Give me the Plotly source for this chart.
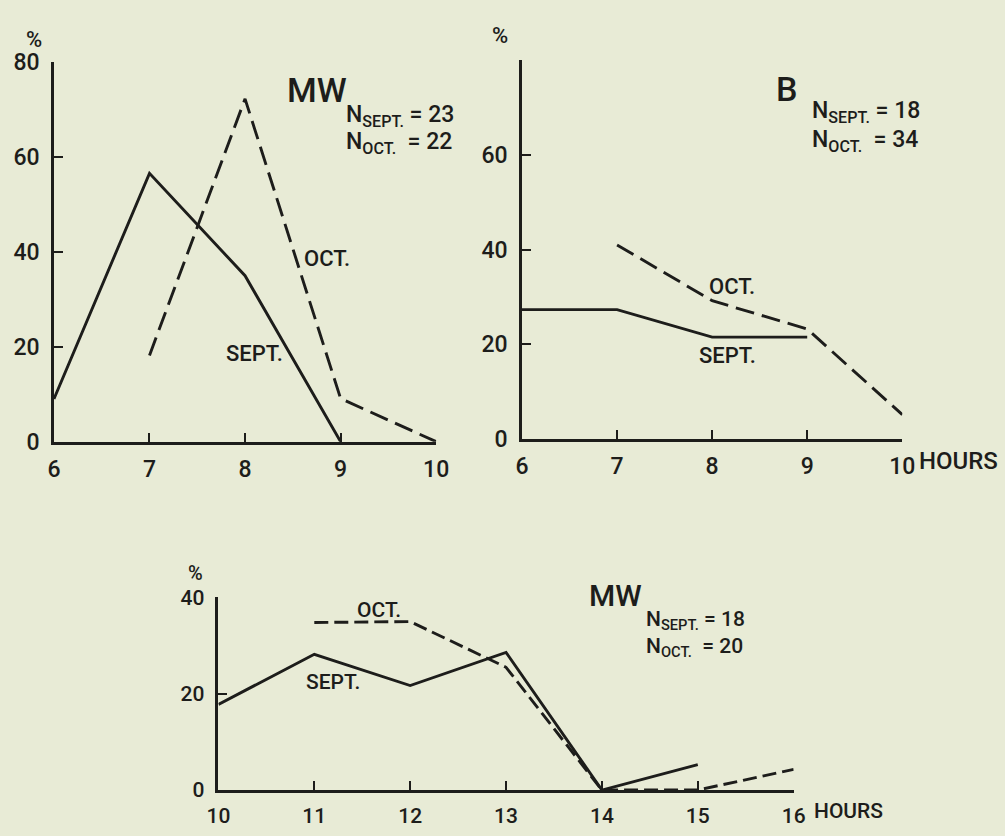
import plotly.graph_objects as go

W, H = 1005, 836

# ---------------- data ----------------
mw_morning_hours_sept = [6, 7, 8, 9]
mw_morning_sept = [9, 56.6, 35, 0]
mw_morning_hours_oct = [7, 8, 9, 10]
mw_morning_oct = [18.2, 72.3, 9.1, 0]

b_hours_sept = [6, 7, 8, 9]
b_sept = [27.3, 27.3, 21.5, 21.5]
b_hours_oct = [7, 8, 9, 10]
b_oct = [41.0, 29.2, 23.2, 5.1]

mw_noon_hours_sept = [10, 11, 12, 13, 14, 15]
mw_noon_sept = [17.8, 28.2, 21.7, 28.6, 0, 5.3]
mw_noon_hours_oct = [11, 12, 13, 14, 15, 16]
mw_noon_oct = [34.8, 35.0, 25.5, 0, 0, 4.3]

top_xticks = [6, 7, 8, 9, 10]
top_yticks = [0, 20, 40, 60, 80]
bottom_xticks = [10, 11, 12, 13, 14, 15, 16]
bottom_yticks = [0, 20, 40]

# ---------------- style ----------------
INK = "#1d1d1b"
BG = "#e8ebd6"
FONT = "Roboto, DejaVu Sans Condensed, sans-serif"


def fx(p):
    return p / W


def fy(p):
    return 1 - p / H


fig = go.Figure()

line_solid = dict(color=INK, width=2.9)
line_dash_top = dict(color=INK, width=2.9, dash="19px,8px")
line_dash_bot = dict(color=INK, width=2.9, dash="14px,6px")

fig.add_trace(go.Scatter(x=mw_morning_hours_sept, y=mw_morning_sept, mode="lines",
                         line=line_solid, xaxis="x", yaxis="y", cliponaxis=False))
fig.add_trace(go.Scatter(x=mw_morning_hours_oct, y=mw_morning_oct, mode="lines",
                         line=line_dash_top, xaxis="x", yaxis="y", cliponaxis=False))
fig.add_trace(go.Scatter(x=b_hours_sept, y=b_sept, mode="lines",
                         line=line_solid, xaxis="x2", yaxis="y2", cliponaxis=False))
fig.add_trace(go.Scatter(x=b_hours_oct, y=b_oct, mode="lines",
                         line=line_dash_top, xaxis="x2", yaxis="y2", cliponaxis=False))
fig.add_trace(go.Scatter(x=mw_noon_hours_sept, y=mw_noon_sept, mode="lines",
                         line=line_solid, xaxis="x3", yaxis="y3", cliponaxis=False))
fig.add_trace(go.Scatter(x=mw_noon_hours_oct, y=mw_noon_oct, mode="lines",
                         line=line_dash_bot, xaxis="x3", yaxis="y3", cliponaxis=False))

tickfont = dict(family=FONT, size=23, color=INK, weight=500)
tickfont_b = dict(family=FONT, size=21, color=INK, weight=500)


def xax(dom, rng, vals, font, anchor):
    return dict(domain=dom, range=rng, tickvals=vals, ticktext=[str(v) for v in vals],
                showline=True, linewidth=2.5, linecolor=INK, ticks="inside",
                ticklen=9, tickwidth=2.2, tickcolor=INK, tickfont=font,
                showgrid=False, zeroline=False, anchor=anchor,
                ticklabelstandoff=5, fixedrange=True)


def yax(dom, rng, vals, texts, font, anchor):
    return dict(domain=dom, range=rng, tickvals=vals, ticktext=texts,
                showline=True, linewidth=2.5, linecolor=INK, ticks="inside",
                ticklen=9, tickwidth=2.2, tickcolor=INK, tickfont=font,
                showgrid=False, zeroline=False, anchor=anchor,
                ticklabelstandoff=7, fixedrange=True)


layout = dict(
    width=W, height=H,
    margin=dict(l=0, r=0, t=0, b=0),
    paper_bgcolor=BG, plot_bgcolor="rgba(0,0,0,0)",
    showlegend=False,
    font=dict(family=FONT, color=INK),
    xaxis=xax([fx(43), fx(435)], [6, 10], top_xticks, tickfont, "y"),
    yaxis=yax([fy(443), fy(51)], [0, 80], top_yticks, [str(v) for v in top_yticks], tickfont, "x"),
    xaxis2=xax([fx(523), fx(913)], [6, 10], top_xticks, tickfont, "y2"),
    yaxis2=yax([fy(440), fy(49)], [0, 80], top_yticks,
               [str(v) for v in top_yticks[:-1]] + [""], tickfont, "x2"),
    xaxis3=xax([fx(211.7), fx(801.6)], [10, 16], bottom_xticks, tickfont_b, "y3"),
    yaxis3=yax([fy(803), fy(604)], [0, 40], bottom_yticks, [str(v) for v in bottom_yticks], tickfont_b, "x3"),
)
fig.update_layout(**layout)


def label(text, x, y, size, xanchor="center", yanchor="middle"):
    fig.add_annotation(text=text, x=fx(x), y=fy(y), xref="paper", yref="paper",
                       showarrow=False, xanchor=xanchor, yanchor=yanchor,
                       font=dict(family=FONT, size=size, color=INK, weight=500))


# panel titles and sample sizes
label("MW", 280, 80, 34, "left")
label("N<sub>SEPT.</sub> = 23", 340, 106, 23, "left")
label("N<sub>OCT.</sub>  = 22", 340, 134, 23, "left")

label("B", 781, 79, 34, "left")
label("N<sub>SEPT.</sub> = 18", 818, 102, 23, "left")
label("N<sub>OCT.</sub>  = 34", 818, 132, 23, "left")

label("MW", 590, 602, 30, "left")
label("N<sub>SEPT.</sub> = 18", 648, 628, 21, "left")
label("N<sub>OCT.</sub>  = 20", 648, 656, 21, "left")

# series labels
label("OCT.", 323, 254, 22)
label("SEPT.", 249, 352, 22)
label("OCT.", 738, 283, 22)
label("SEPT.", 734, 354, 22)
label("OCT.", 376, 617, 21)
label("SEPT.", 329, 691, 21)

# unit labels
label("%", 23, 27, 22)
label("%", 500, 23, 22)
label("%", 188, 579, 20)
label("HOURS", 928, 463, 24, "left")
label("HOURS", 820, 825, 21, "left")

fig.write_html("out.html",
               config={"displayModeBar": False},
               post_script="document.body.style.margin='0';document.body.style.overflow='hidden';")
